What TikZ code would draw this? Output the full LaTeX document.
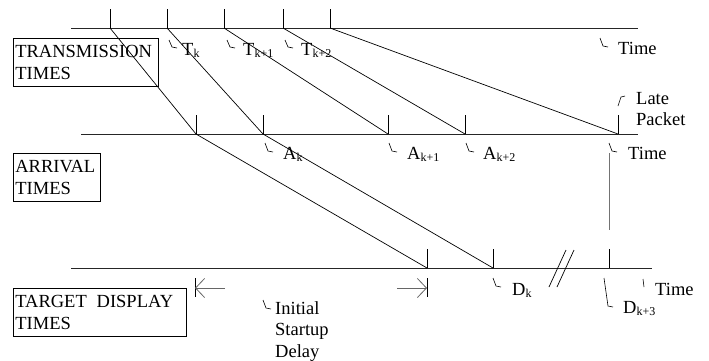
\documentclass[tikz,border=0pt]{standalone}
\usepackage{fontspec}
\setmainfont{Liberation Serif}
\usetikzlibrary{arrows.meta}
\newcommand\subs[1]{\raisebox{-0.3ex}{\fontsize{12}{12}\selectfont #1}}
\begin{document}
\begin{tikzpicture}[x=1pt,y=-1pt,
  every node/.style={font=\fontsize{18.5}{21.5}\selectfont, inner sep=0pt},
  axis/.style={line width=0.8pt, draw=black!85},
  tick/.style={line width=0.8pt},
  path/.style={line width=0.7pt},
  hook/.style={line width=0.6pt},
  lbl/.style={anchor=base west},
  box/.style={draw, line width=0.7pt, anchor=north west, align=left, inner xsep=2pt, inner ysep=0pt},
  barb/.style={line width=0.9pt, draw=black!60, -{Straight Barb[length=9pt,width=19pt,line width=0.8pt]}}]
\useasboundingbox (0,0) rectangle (709,360);
% axes
\coordinate (tl) at (71,28);  \coordinate (tr) at (638,28);
\coordinate (ml) at (81,134); \coordinate (mr) at (638,134);
\coordinate (bl) at (71,268); \coordinate (br) at (652,268);
\draw[axis] (tl) -- (tr);
\draw[axis] (ml) -- (mr);
\draw[axis] (bl) -- (br);
% transmission ticks
\foreach \n/\x in {t1/110,t2/167,t3/224,t4/283,t5/330}{
  \coordinate (\n) at (\x,28);
  \draw[tick] (\x,9) -- (\n);}
% arrival ticks
\foreach \n/\x in {a1/196,a2/263,a3/388,a4/465,a5/618}{
  \coordinate (\n) at (\x,134);
  \draw[tick] (\x,115) -- (\n);}
% display ticks
\foreach \n/\x in {d1/427,d2/493,d3/609}{
  \coordinate (\n) at (\x,268);
  \draw[tick] (\x,249) -- (\n);}
% packet paths
\draw[path] (t1) -- (a1) -- (d1);
\draw[path] (t2) -- (a2) -- (d2);
\draw[path] (t3) -- (a3);
\draw[path] (t4) -- (a4);
\draw[path] (t5) -- (a5);
% late packet vertical
\draw[line width=0.9pt, draw=black!55] (609,153) -- (609,230);
% break marks
\draw[hook, line width=0.7pt] (549,287) -- (566,250);
\draw[hook, line width=0.7pt] (557,287) -- (574,250);
% startup delay arrows
\coordinate (sl) at (195,288); \coordinate (sr) at (427,288);
\draw[line width=0.8pt] (195,278) -- (195,297);
\draw[line width=0.8pt] (427,278) -- (427,297);
\draw[barb] (225,288) -- (sl);
\draw[barb] (397,288) -- (sr);
% boxes
\node[box, minimum width=145pt, minimum height=48pt, text width=141pt] (tx) at (13,38) {TRANSMISSION\\TIMES};
\node[box, minimum width=87pt, minimum height=48pt, text width=83pt] (ar) at (13,153) {ARRIVAL\\TIMES};
\node[box, minimum width=173pt, minimum height=48pt, text width=169pt] (td) at (13,288) {TARGET\hspace{0.2em} DISPLAY\\TIMES};
% hooks and labels: top
\draw[hook] (169,40) -- (172,47) -- (177,48);
\node[lbl] (Tk) at (182,55) {T\subs{k}};
\draw[hook] (227,40) -- (230,47) -- (235,48);
\node[lbl] (Tk1) at (243,55) {T\subs{k+1}};
\draw[hook] (285,40) -- (288,47) -- (293,48);
\node[lbl] (Tk2) at (301,55) {T\subs{k+2}};
\draw[hook] (600,38) -- (603,46) -- (608,47);
\node[lbl] (time1) at (618,54) {Time};
\draw[hook] (618,106) -- (621,97) -- (625,96);
\node[lbl] (late) at (636,104) {Late};
\node[lbl] (packet) at (636,125) {Packet};
% middle labels
\draw[hook] (265,143) -- (268,151) -- (273,152);
\node[lbl] (Ak) at (283,159) {A\subs{k}};
\draw[hook] (389,143) -- (392,151) -- (397,152);
\node[lbl] (Ak1) at (407,159) {A\subs{k+1}};
\draw[hook] (466,143) -- (469,151) -- (474,152);
\node[lbl] (Ak2) at (483,159) {A\subs{k+2}};
\draw[hook] (609,143) -- (612,151) -- (617,152);
\node[lbl] (time2) at (628,159) {Time};
% bottom labels
\draw[hook] (493,278) -- (496,286) -- (501,287);
\node[lbl] (Dk) at (512,295) {D\subs{k}};
\draw[hook] (604,278) -- (608,306) -- (613,307);
\node[lbl] (Dk3) at (623,313) {D\subs{k+3}};
\draw[hook] (643,279) -- (644,287);
\node[lbl] (time3) at (655,295) {Time};
\draw[hook] (263,300) -- (266,308) -- (271,309);
\node[lbl, align=left, anchor=north west] (isd) at (275,301) {Initial\\Startup\\Delay};
\end{tikzpicture}
\end{document}
